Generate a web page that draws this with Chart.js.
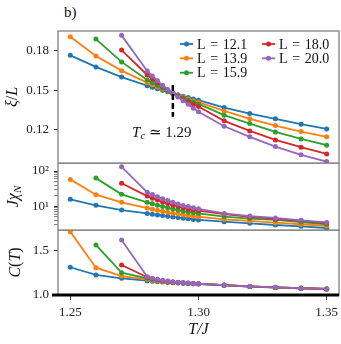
<!DOCTYPE html>
<html>
<head>
<meta charset="utf-8">
<script src="https://cdn.jsdelivr.net/npm/chart.js@4.4.0/dist/chart.umd.min.js"></script>
<style>
  html, body { margin: 0; padding: 0; background: #fff; }
  #wrap { position: relative; width: 341px; height: 344px; }
  canvas { position: absolute; left: 0; }
  #title { position: absolute; left: 64px; top: 4px; font: 15px "Liberation Serif", serif; color: #111; }
</style>
</head>
<body>
<div id="wrap">
  <div id="title">b)</div>
  <canvas id="xiChart" width="341" height="164" style="top:0"></canvas>
  <canvas id="chiChart" width="341" height="68" style="top:163px"></canvas>
  <canvas id="cChart" width="341" height="114" style="top:230px"></canvas>
</div>
<script>
// temperatures (T/J) shared by all three panels
const temps = [1.25, 1.26, 1.27, 1.28, 1.282, 1.284, 1.286, 1.288, 1.29, 1.292, 1.294, 1.296, 1.298, 1.30, 1.31, 1.32, 1.33, 1.34, 1.35];
const sizes = ['12.1', '13.9', '15.9', '18.0', '20.0'];
const colors = ['#1f77b4', '#ff7f0e', '#2ca02c', '#d62728', '#9467bd'];

// xi / L
const xi121 = [0.1765, 0.1677, 0.1600, 0.1535, 0.1523, 0.1512, 0.1500, 0.1489, 0.1478, 0.1467, 0.1456, 0.1446, 0.1435, 0.1425, 0.1370, 0.1324, 0.1284, 0.1244, 0.1208];
const xi139 = [0.1906, 0.1760, 0.1649, 0.1558, 0.1542, 0.1526, 0.1510, 0.1494, 0.1478, 0.1463, 0.1449, 0.1435, 0.1422, 0.1410, 0.1344, 0.1284, 0.1233, 0.1188, 0.1148];
const xi159 = [null, 0.1888, 0.1715, 0.1578, 0.1557, 0.1536, 0.1516, 0.1497, 0.1478, 0.1460, 0.1443, 0.1427, 0.1412, 0.1397, 0.1312, 0.1248, 0.1185, 0.1132, 0.1085];
const xi180 = [null, null, 0.1805, 0.1616, 0.1586, 0.1558, 0.1530, 0.1504, 0.1478, 0.1454, 0.1433, 0.1413, 0.1394, 0.1377, 0.1269, 0.1193, 0.1125, 0.1070, 0.1019];
const xi200 = [null, null, 0.1916, 0.1647, 0.1609, 0.1573, 0.1538, 0.1507, 0.1478, 0.1449, 0.1421, 0.1395, 0.1365, 0.1337, 0.1228, 0.1148, 0.1074, 0.1012, 0.0961];

// J chi_N
const chi121 = [15.8, 10.7, 7.85, 6.3, 6.0, 5.7, 5.45, 5.2, 5.0, 4.8, 4.6, 4.45, 4.25, 4.1, 3.67, 3.3, 2.95, 2.71, 2.43];
const chi139 = [58, 21.4, 13, 8.95, 8.3, 7.7, 7.2, 6.8, 6.4, 6.05, 5.75, 5.5, 5.25, 5.07, 4.27, 3.84, 3.44, 3.1, 2.77];
const chi159 = [null, 63, 21.9, 13, 11.8, 10.8, 9.9, 9.1, 8.4, 7.8, 7.3, 6.9, 6.6, 6.3, 5.07, 4.5, 4.1, 3.55, 3.1];
const chi180 = [null, null, 45, 19.5, 17.0, 15.0, 13.3, 12.0, 10.8, 9.9, 9.1, 8.4, 7.9, 7.5, 6.0, 5.0, 4.4, 3.88, 3.35];
const chi200 = [null, null, 132, 25, 21.5, 18.7, 16.5, 14.6, 13.0, 11.7, 10.6, 9.8, 9.1, 8.5, 6.3, 5.3, 4.7, 4.0, 3.5];

// C(T)
const c121 = [1.313, 1.226, 1.188, 1.161, 1.155, 1.150, 1.146, 1.142, 1.138, 1.135, 1.132, 1.129, 1.127, 1.124, 1.110, 1.095, 1.084, 1.075, 1.068];
const c139 = [1.714, 1.308, 1.214, 1.177, 1.166, 1.158, 1.152, 1.147, 1.142, 1.138, 1.134, 1.131, 1.128, 1.125, 1.111, 1.096, 1.085, 1.076, 1.068];
const c159 = [null, 1.564, 1.252, 1.188, 1.175, 1.165, 1.157, 1.151, 1.145, 1.140, 1.136, 1.132, 1.129, 1.126, 1.111, 1.096, 1.085, 1.076, 1.068];
const c180 = [null, null, 1.339, 1.200, 1.184, 1.172, 1.162, 1.154, 1.148, 1.142, 1.137, 1.133, 1.130, 1.127, 1.112, 1.097, 1.085, 1.076, 1.069];
const c200 = [null, null, 1.620, 1.207, 1.190, 1.177, 1.166, 1.157, 1.150, 1.144, 1.139, 1.134, 1.130, 1.127, 1.112, 1.097, 1.086, 1.077, 1.069];

const xTicks = [1.25, 1.30, 1.35];
const xiTicks = [0.12, 0.15, 0.18];
const chiTicks = [3, 4, 5, 6, 7, 8, 9, 10, 20, 30, 40, 50, 60, 70, 80, 90, 100];
const cTicks = [1.0, 1.5];
const tc = 1.29;

const serif = '"Liberation Serif", "DejaVu Serif", serif';
const tickFont = { family: serif, size: 13 };
const xMin = 1.2452, xMax = 1.3548;

function makeSets(series) {
    return series.map(function(arr, i) {
        return {
            label: 'L\u2004=\u2004' + sizes[i],
            data: temps.map((t, k) => ({ x: t, y: arr[k] })).filter(p => p.y !== null),
            borderColor: colors[i],
            backgroundColor: colors[i],
            borderWidth: 1.8,
            pointRadius: 2.5,
            pointBorderWidth: 0,
            pointBackgroundColor: colors[i],
            order: series.length - i
        };
    });
}

// grey box round the plot area, optional thick black bottom
const frame = {
    id: 'frame',
    afterDraw(chart, args, opts) {
        const { ctx, chartArea: a } = chart;
        ctx.save();
        ctx.strokeStyle = '#777';
        ctx.lineWidth = 1.2;
        ctx.strokeRect(a.left, a.top, a.right - a.left, a.bottom - a.top);
        if (opts.thickBottom) {
            ctx.strokeStyle = '#000';
            ctx.lineWidth = 3;
            ctx.beginPath();
            ctx.moveTo(a.left - 6, a.bottom);
            ctx.lineTo(a.right, a.bottom);
            ctx.stroke();
        }
        ctx.restore();
    }
};

// rotated y label built from pieces: [text, italic, subscript]
const yTitle = {
    id: 'yTitle',
    afterDraw(chart, args, opts) {
        const { ctx, chartArea: a } = chart;
        const parts = opts.parts;
        ctx.save();
        ctx.translate(opts.x, (a.top + a.bottom) / 2);
        ctx.rotate(-Math.PI / 2);
        ctx.fillStyle = '#111';
        ctx.textBaseline = 'middle';
        let w = 0;
        parts.forEach(p => {
            ctx.font = (p[1] ? 'italic ' : '') + (p[2] ? 11 : 16) + 'px ' + serif;
            w += ctx.measureText(p[0]).width;
        });
        let cx = -w / 2;
        parts.forEach(p => {
            ctx.font = (p[1] ? 'italic ' : '') + (p[2] ? 11 : 16) + 'px ' + serif;
            ctx.fillText(p[0], cx, p[2] ? 4 : 0);
            cx += ctx.measureText(p[0]).width;
        });
        ctx.restore();
    }
};

// two-column legend and the Tc marker for the top panel
const topExtras = {
    id: 'topExtras',
    afterDraw(chart) {
        const { ctx, chartArea: a, scales: { x, y } } = chart;
        ctx.save();
        // Tc dashed marker
        ctx.strokeStyle = '#000';
        ctx.lineWidth = 2.5;
        ctx.setLineDash([6, 3]);
        const px = x.getPixelForValue(tc);
        ctx.beginPath();
        ctx.moveTo(px, y.getPixelForValue(0.1540));
        ctx.lineTo(px, y.getPixelForValue(0.1300));
        ctx.stroke();
        ctx.setLineDash([]);

        // Tc label
        const lx = x.getPixelForValue(1.2857), ly = y.getPixelForValue(0.1176);
        const pieces = [['T', 'italic 15px ', 0], ['c', 'italic 11px ', 3], [' \u2243 1.29', '15px ', 0]];
        let w = 0;
        pieces.forEach(p => { ctx.font = p[1] + serif; w += ctx.measureText(p[0]).width; });
        let cx = lx - w / 2;
        ctx.fillStyle = '#111';
        ctx.textBaseline = 'middle';
        pieces.forEach(p => {
            ctx.font = p[1] + serif;
            ctx.fillText(p[0], cx, ly + p[2]);
            cx += ctx.measureText(p[0]).width;
        });

        // legend: 3 rows in first column, 2 in second
        const cols = [a.right - 159, a.right - 77];
        const rows = [a.top + 13, a.top + 27.3, a.top + 41.7];
        chart.data.datasets.forEach(function(ds, i) {
            const col = i < 3 ? 0 : 1;
            const row = i < 3 ? i : i - 3;
            const x0 = cols[col], y0 = rows[row];
            ctx.strokeStyle = ds.borderColor;
            ctx.lineWidth = 1.8;
            ctx.beginPath();
            ctx.moveTo(x0, y0);
            ctx.lineTo(x0 + 13, y0);
            ctx.stroke();
            ctx.fillStyle = ds.borderColor;
            ctx.beginPath();
            ctx.arc(x0 + 6.5, y0, 2.5, 0, Math.PI * 2);
            ctx.fill();
            ctx.fillStyle = '#111';
            ctx.font = '14px ' + serif;
            ctx.fillText(ds.label, x0 + 17, y0 + 1);
        });
        ctx.restore();
    }
};

function yAxis(extra) {
    return Object.assign({
        afterFit: function(s) { s.width = 58; s.paddingTop = 0; s.paddingBottom = 0; },
        grid: { drawOnChartArea: false, tickLength: 4, tickColor: '#333' },
        border: { display: false },
        ticks: { padding: 5, font: tickFont, color: '#222', autoSkip: false }
    }, extra);
}

const hiddenX = { type: 'linear', min: xMin, max: xMax, display: false };

// Top panel: xi / L
new Chart(document.getElementById('xiChart'), {
    type: 'line',
    data: { datasets: makeSets([xi121, xi139, xi159, xi180, xi200]) },
    options: {
        responsive: false,
        animation: false,
        layout: { autoPadding: false, padding: { top: 31, bottom: 1, right: 2, left: 0 } },
        scales: {
            x: hiddenX,
            y: yAxis({
                min: 0.095, max: 0.1949,
                afterBuildTicks: function(s) { s.ticks = xiTicks.map(v => ({ value: v })); },
                ticks: { padding: 5, font: tickFont, color: '#222', callback: v => v.toFixed(2) }
            })
        },
        plugins: {
            legend: { display: false },
            tooltip: { enabled: false },
            frame: {},
            yTitle: { x: 13, parts: [['\u03be', true], ['/', false], ['L', true]] }
        }
    },
    plugins: [frame, yTitle, topExtras]
});

// Middle panel: J chi_N (log)
new Chart(document.getElementById('chiChart'), {
    type: 'line',
    data: { datasets: makeSets([chi121, chi139, chi159, chi180, chi200]) },
    options: {
        responsive: false,
        animation: false,
        layout: { autoPadding: false, padding: { top: 0, bottom: 1, right: 2, left: 0 } },
        scales: {
            x: hiddenX,
            y: yAxis({
                type: 'logarithmic',
                min: 2.13, max: 169,
                afterBuildTicks: function(s) { s.ticks = chiTicks.map(v => ({ value: v })); },
                grid: {
                    drawOnChartArea: false, tickLength: 4, tickColor: '#333',
                    tickWidth: c => (c.tick && (c.tick.value === 10 || c.tick.value === 100)) ? 1 : 0.6
                },
                ticks: {
                    padding: 5, font: tickFont, color: '#222', autoSkip: false,
                    callback: v => v === 10 ? '10\u00b9' : (v === 100 ? '10\u00b2' : '')
                }
            })
        },
        plugins: {
            legend: { display: false },
            tooltip: { enabled: false },
            frame: {},
            yTitle: { x: 14, parts: [['J', true], ['\u03c7', true], ['N', true, true]] }
        }
    },
    plugins: [frame, yTitle]
});

// Bottom panel: C(T)
new Chart(document.getElementById('cChart'), {
    type: 'line',
    data: { datasets: makeSets([c121, c139, c159, c180, c200]) },
    options: {
        responsive: false,
        animation: false,
        layout: { autoPadding: false, padding: { top: 0, bottom: 0, right: 2, left: 0 } },
        scales: {
            x: {
                type: 'linear', min: xMin, max: xMax,
                afterFit: function(s) { s.height = 49; s.paddingLeft = 0; s.paddingRight = 0; },
                afterBuildTicks: function(s) { s.ticks = xTicks.map(v => ({ value: v })); },
                grid: { drawOnChartArea: false, tickLength: 5, tickColor: '#333' },
                border: { display: false },
                ticks: { padding: 5, font: tickFont, color: '#222', maxRotation: 0, callback: v => v.toFixed(2) },
                title: { display: true, text: 'T/J', font: { family: serif, size: 16, style: 'italic' }, color: '#111', padding: { top: 0, bottom: 5 } }
            },
            y: yAxis({
                min: 1.0, max: 1.733,
                afterBuildTicks: function(s) { s.ticks = cTicks.map(v => ({ value: v })); },
                ticks: { padding: 5, font: tickFont, color: '#222', callback: v => v.toFixed(1) }
            })
        },
        plugins: {
            legend: { display: false },
            tooltip: { enabled: false },
            frame: { thickBottom: true },
            yTitle: { x: 16, parts: [['C', true], ['(', false], ['T', true], [')', false]] }
        }
    },
    plugins: [frame, yTitle]
});
</script>
</body>
</html>
